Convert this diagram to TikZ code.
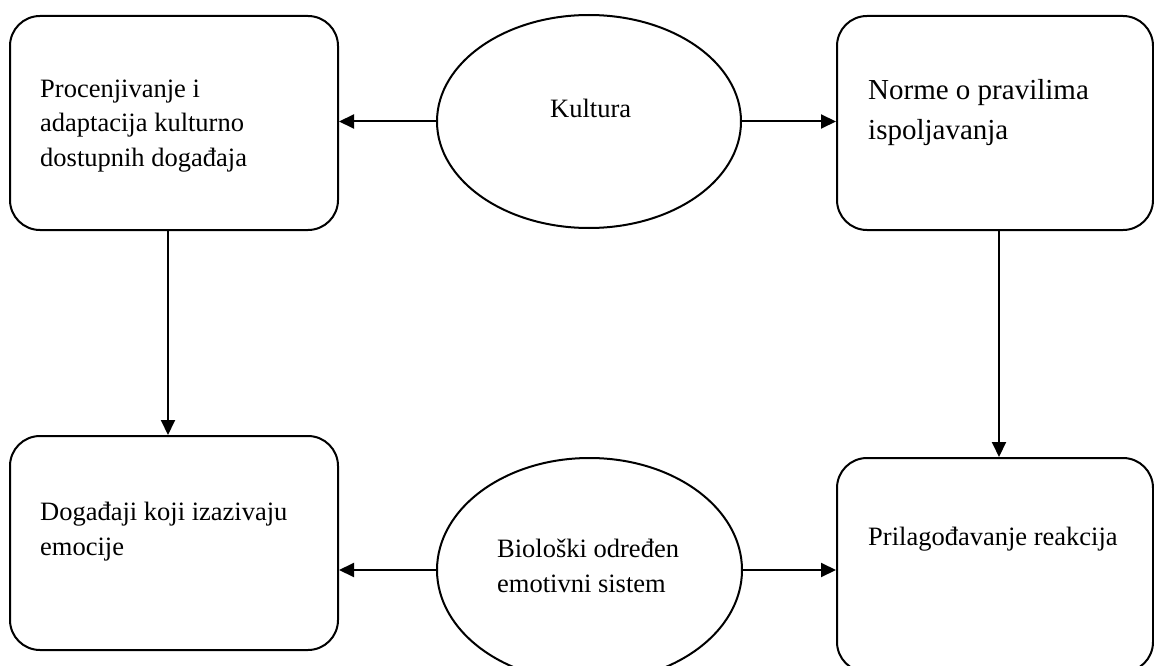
\documentclass[tikz,border=0pt]{standalone}
\usepackage{fontspec}
\setmainfont{Liberation Serif}
\usetikzlibrary{arrows.meta,shapes.geometric}
\tikzset{
  box/.style={draw, line width=2pt, rounded corners=30pt, minimum width=#1, minimum height=214pt, inner sep=0pt},
  oval/.style={draw, line width=2pt, ellipse, inner sep=0pt},
  arr/.style={line width=2pt, -{Triangle[length=15pt,width=14pt]}},
  txt/.style={anchor=base west, inner sep=0pt, align=left, font=\fontsize{26.5}{35}\selectfont},
  txtbig/.style={anchor=base west, inner sep=0pt, align=left, font=\fontsize{29}{40}\selectfont}
}
\begin{document}
\begin{tikzpicture}[x=1pt,y=-1pt]
\useasboundingbox (0,0) rectangle (1154,666);
\node[box=328pt] (TL) at (174,123) {};
\node[box=316pt] (TR) at (995,123) {};
\node[box=328pt] (BL) at (174,543) {};
\node[box=316pt] (BR) at (995,565) {};
\node[oval, minimum width=304pt, minimum height=213pt] (E1) at (589,121.5) {};
\node[oval, minimum width=305pt, minimum height=224pt] (E2) at (589.5,570) {};

% base anchor of a multi-line node = baseline of its last line
\node[txt] (tTL) at (40,167) {Procenjivanje i\\adaptacija kulturno\\dostupnih događaja};
\node[txt] (tE1) at (550,118) {Kultura};
\node[txtbig] (tTR) at (868,140) {Norme o pravilima\\ispoljavanja};
\node[txt] (tBL) at (40,555) {Događaji koji izazivaju\\emocije};
\node[txt] (tE2) at (497,592) {Biološki određen\\emotivni sistem};
\node[txt] (tBR) at (868,545) {Prilagođavanje reakcija};

\draw[arr] (E1.west) -- (E1.west -| TL.east);
\draw[arr] (E1.east) -- (E1.east -| TR.west);
\draw[arr] (E2.west) -- (E2.west -| BL.east);
\draw[arr] (E2.east) -- (E2.east -| BR.west);
\draw[arr] ([xshift=-6pt]TL.south) -- ([xshift=-6pt]BL.north);
\draw[arr] ([xshift=4pt]TR.south) -- ([xshift=4pt]BR.north);
\end{tikzpicture}
\end{document}
